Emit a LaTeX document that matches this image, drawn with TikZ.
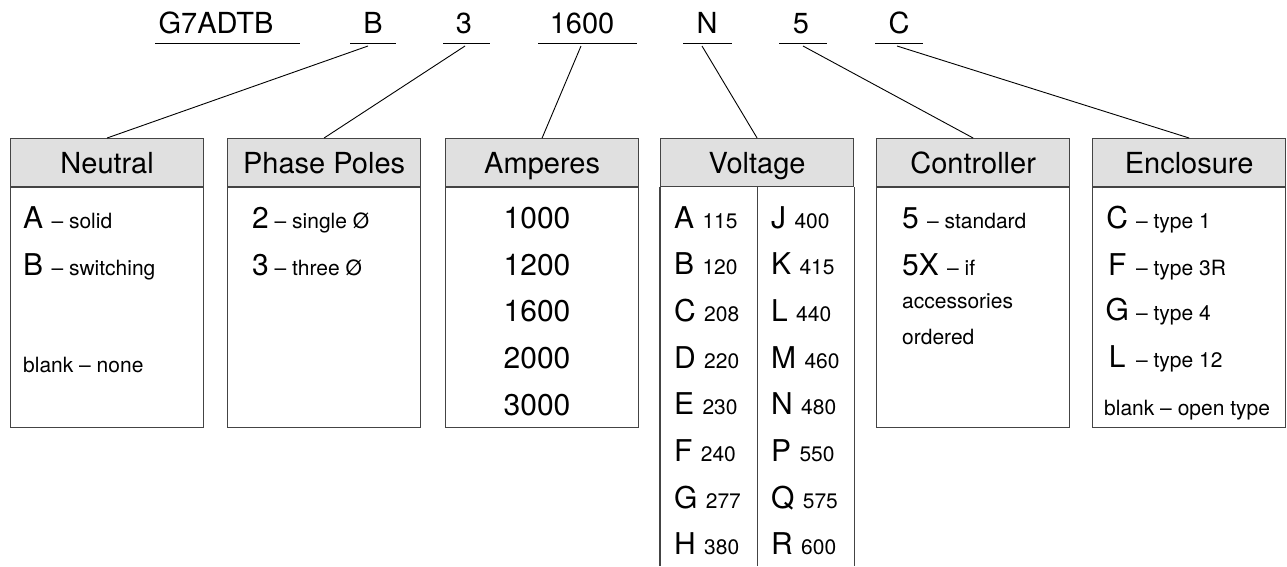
\documentclass[tikz,border=0pt]{standalone}
\usepackage{fontspec}
\setmainfont{TeX Gyre Heros}
\newcommand\BigT{\fontsize{30}{36}\selectfont}
\newcommand\SmT{\fontsize{21}{25}\selectfont}
\newcommand\HdT{\fontsize{29}{34}\selectfont}
\definecolor{hdrfill}{HTML}{E0E0E0}
\definecolor{boxline}{HTML}{444444}
\begin{document}
\begin{tikzpicture}[x=1pt,y=-1pt]
\tikzset{
  hdr/.style={draw=boxline, fill=hdrfill, line width=1.2pt, minimum width=193pt, minimum height=48pt,
    anchor=north west, inner sep=0pt, font=\HdT, text height=21pt, text depth=0pt},
  bodybox/.style={draw=boxline, line width=1.2pt, minimum width=193pt, minimum height=240pt,
    anchor=north west, inner sep=0pt},
  vline/.style={draw=boxline, line width=1.2pt},
  lbl/.style={anchor=base, font=\HdT, inner sep=0pt},
  uline/.style={draw=black, line width=1pt},
  conn/.style={draw=black, line width=0.9pt},
  txt/.style={anchor=base west, inner sep=0pt, font=\BigT},
  ctxt/.style={anchor=base, inner sep=0pt, font=\BigT},
  stxt/.style={anchor=base west, inner sep=0pt, font=\SmT}
}
\useasboundingbox (0,0) rectangle (1287,566);
\fill[white] (0,0) rectangle (1287,566);

% ---- top code labels ----
\node[lbl] (tG) at (216,33) {G7ADTB};
\node[lbl] (tB) at (373,33) {B};
\node[lbl] (t3) at (464,33) {3};
\node[lbl] (t16) at (582,33) {1600};
\node[lbl] (tN) at (707,33) {N};
\node[lbl] (t5) at (801,33) {5};
\node[lbl] (tC) at (899,33) {C};

\coordinate (uG1) at (155,43); \coordinate (uG2) at (300,43);
\coordinate (uB1) at (350,43); \coordinate (uB2) at (396,43);
\coordinate (u31) at (443,43); \coordinate (u32) at (490,43);
\coordinate (u161) at (538,43); \coordinate (u162) at (637,43);
\coordinate (uN1) at (683,43); \coordinate (uN2) at (732,43);
\coordinate (u51) at (779,43); \coordinate (u52) at (827,43);
\coordinate (uC1) at (875,43); \coordinate (uC2) at (923,43);
\foreach \u in {G,B,3,16,N,5,C} {\draw[uline] (u\u1) -- (u\u2);}

% ---- headers ----
\node[hdr] (hNeu) at (10,138) {Neutral};
\node[hdr] (hPha) at (227,138) {Phase Poles};
\node[hdr] (hAmp) at (445,138) {Amperes};
\node[hdr] (hVol) at (660,138) {Voltage};
\node[hdr] (hCon) at (876,138) {Controller};
\node[hdr] (hEnc) at (1092,138) {Enclosure};

% ---- bodies ----
\node[bodybox] (bNeu) at (hNeu.south west) {};
\node[bodybox] (bPha) at (hPha.south west) {};
\node[bodybox] (bAmp) at (hAmp.south west) {};
\node[bodybox] (bCon) at (hCon.south west) {};
\node[bodybox] (bEnc) at (hEnc.south west) {};
\coordinate (bot) at (0,566);
\draw[vline] (hVol.south west) -- (hVol.south west |- bot);
\draw[vline] (hVol.south east) -- (hVol.south east |- bot);
\draw[vline] (hVol.south) -- (hVol.south |- bot);

% ---- connectors ----
\coordinate (cB) at (368,46);
\coordinate (c3) at (465,46);
\coordinate (c16) at (581,46);
\coordinate (cN) at (702,46);
\coordinate (c5) at (803,46);
\coordinate (cC) at (897,46);
\draw[conn] (cB) -- (hNeu.north);
\draw[conn] (c3) -- (hPha.north);
\draw[conn] (c16) -- (hAmp.north);
\draw[conn] (cN) -- (hVol.north);
\draw[conn] (c5) -- (hCon.north);
\draw[conn] (cC) -- (hEnc.north);

% ---- Neutral ----
\node[txt] (nA) at (23,228) {A \SmT – solid};
\node[txt] (nB) at (23,275) {B \SmT – switching};
\node[stxt] (nX) at (23,372) {blank – none};

% ---- Phase Poles ----
\node[txt] (p2) at (252,228) {2\SmT\ – single Ø};
\node[txt] (p3) at (252,275) {3\SmT\ – three Ø};

% ---- Amperes ----
\node[ctxt] (a1) at (537,228) {1000};
\node[ctxt] (a2) at (537,275) {1200};
\node[ctxt] (a3) at (537,321) {1600};
\node[ctxt] (a4) at (537,368) {2000};
\node[ctxt] (a5) at (537,415) {3000};

% ---- Voltage ----
\foreach \L/\V [count=\i from 0] in {A/115,B/120,C/208,D/220,E/230,F/240,G/277,H/380}
  {\node[txt] (vl\i) at (674,{228+46.7*\i}) {\L\ \SmT\V};}
\foreach \L/\V [count=\i from 0] in {J/400,K/415,L/440,M/460,N/480,P/550,Q/575,R/600}
  {\node[txt] (vr\i) at (771,{228+46.7*\i}) {\L\ \SmT\V};}

% ---- Controller ----
\node[txt] (k1) at (902,228) {5 \SmT – standard};
\node[txt] (k2) at (902,275) {5X \SmT – if};
\node[stxt] (k3) at (902,308) {accessories};
\node[stxt] (k4) at (902,344) {ordered};

% ---- Enclosure ----
\node[txt] (e1) at (1104,228) {\makebox[26pt]{C}\SmT\ – type 1};
\node[txt] (e2) at (1104,275) {\makebox[26pt]{F}\SmT\ – type 3R};
\node[txt] (e3) at (1104,320) {\makebox[26pt]{G}\SmT\ – type 4};
\node[txt] (e4) at (1104,367) {\makebox[26pt]{L}\SmT\ – type 12};
\node[stxt] (e5) at (1104,415) {blank – open type};
\end{tikzpicture}
\end{document}
